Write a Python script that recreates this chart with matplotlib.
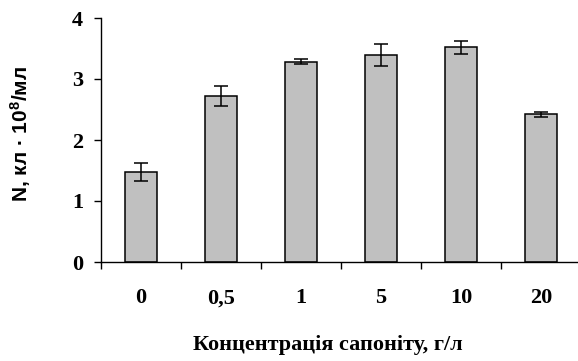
import matplotlib
matplotlib.use("Agg")
import matplotlib.pyplot as plt
import numpy as np

categories = ["0", "0,5", "1", "5", "10", "20"]
values = [1.48, 2.72, 3.28, 3.40, 3.52, 2.42]
errors = [0.15, 0.17, 0.04, 0.18, 0.11, 0.04]
y_ticks = [0, 1, 2, 3, 4]

plt.rcParams['mathtext.fontset'] = 'custom'
plt.rcParams['mathtext.bf'] = 'Liberation Sans:bold'
plt.rcParams['mathtext.rm'] = 'Liberation Sans:bold'
plt.rcParams['mathtext.default'] = 'bf'

fig = plt.figure(figsize=(5.78, 3.61), dpi=100)
ax = fig.add_axes([101/578, 99/361, 480/578, 244/361])

x = np.arange(len(categories))
ax.bar(x, values, width=0.4, color="#c0c0c0", edgecolor="black", linewidth=1.1,
       yerr=errors, capsize=4.7, error_kw=dict(elinewidth=1.1, capthick=1.1, ecolor="black"))

ax.set_xlim(-0.5, 5.5)
ax.set_ylim(0, 4)
ax.set_yticks(y_ticks)
ax.set_yticklabels([str(t) for t in y_ticks], family="Liberation Serif",
                   fontweight="bold", fontsize=16)

# labels at the bar centres, ticks between categories
ax.set_xticks(x)
ax.set_xticklabels(categories, family="Liberation Serif", fontweight="bold", fontsize=16)
ax.tick_params(axis="x", which="major", length=0, pad=19)
ax.set_xticks(np.arange(-0.5, 5.6, 1), minor=True)
ax.tick_params(axis="x", which="minor", length=5, width=1, direction="out")
ax.tick_params(axis="y", length=5, width=1, direction="out", pad=8)

ax.spines["top"].set_visible(False)
ax.spines["right"].set_visible(False)
ax.spines["left"].set_linewidth(1)
ax.spines["bottom"].set_linewidth(1)

fig.text(21/578, 1 - 134/361, r"N, кл · 10$^{8}$/мл", rotation=90, ha="center", va="center",
         family="Liberation Sans", fontweight="bold", fontsize=15)
fig.text(328/578, 1 - 345/361, "Концентрація сапоніту, г/л", ha="center", va="center",
         family="Liberation Serif", fontweight="bold", fontsize=16)

fig.savefig("out.png", dpi=100)
